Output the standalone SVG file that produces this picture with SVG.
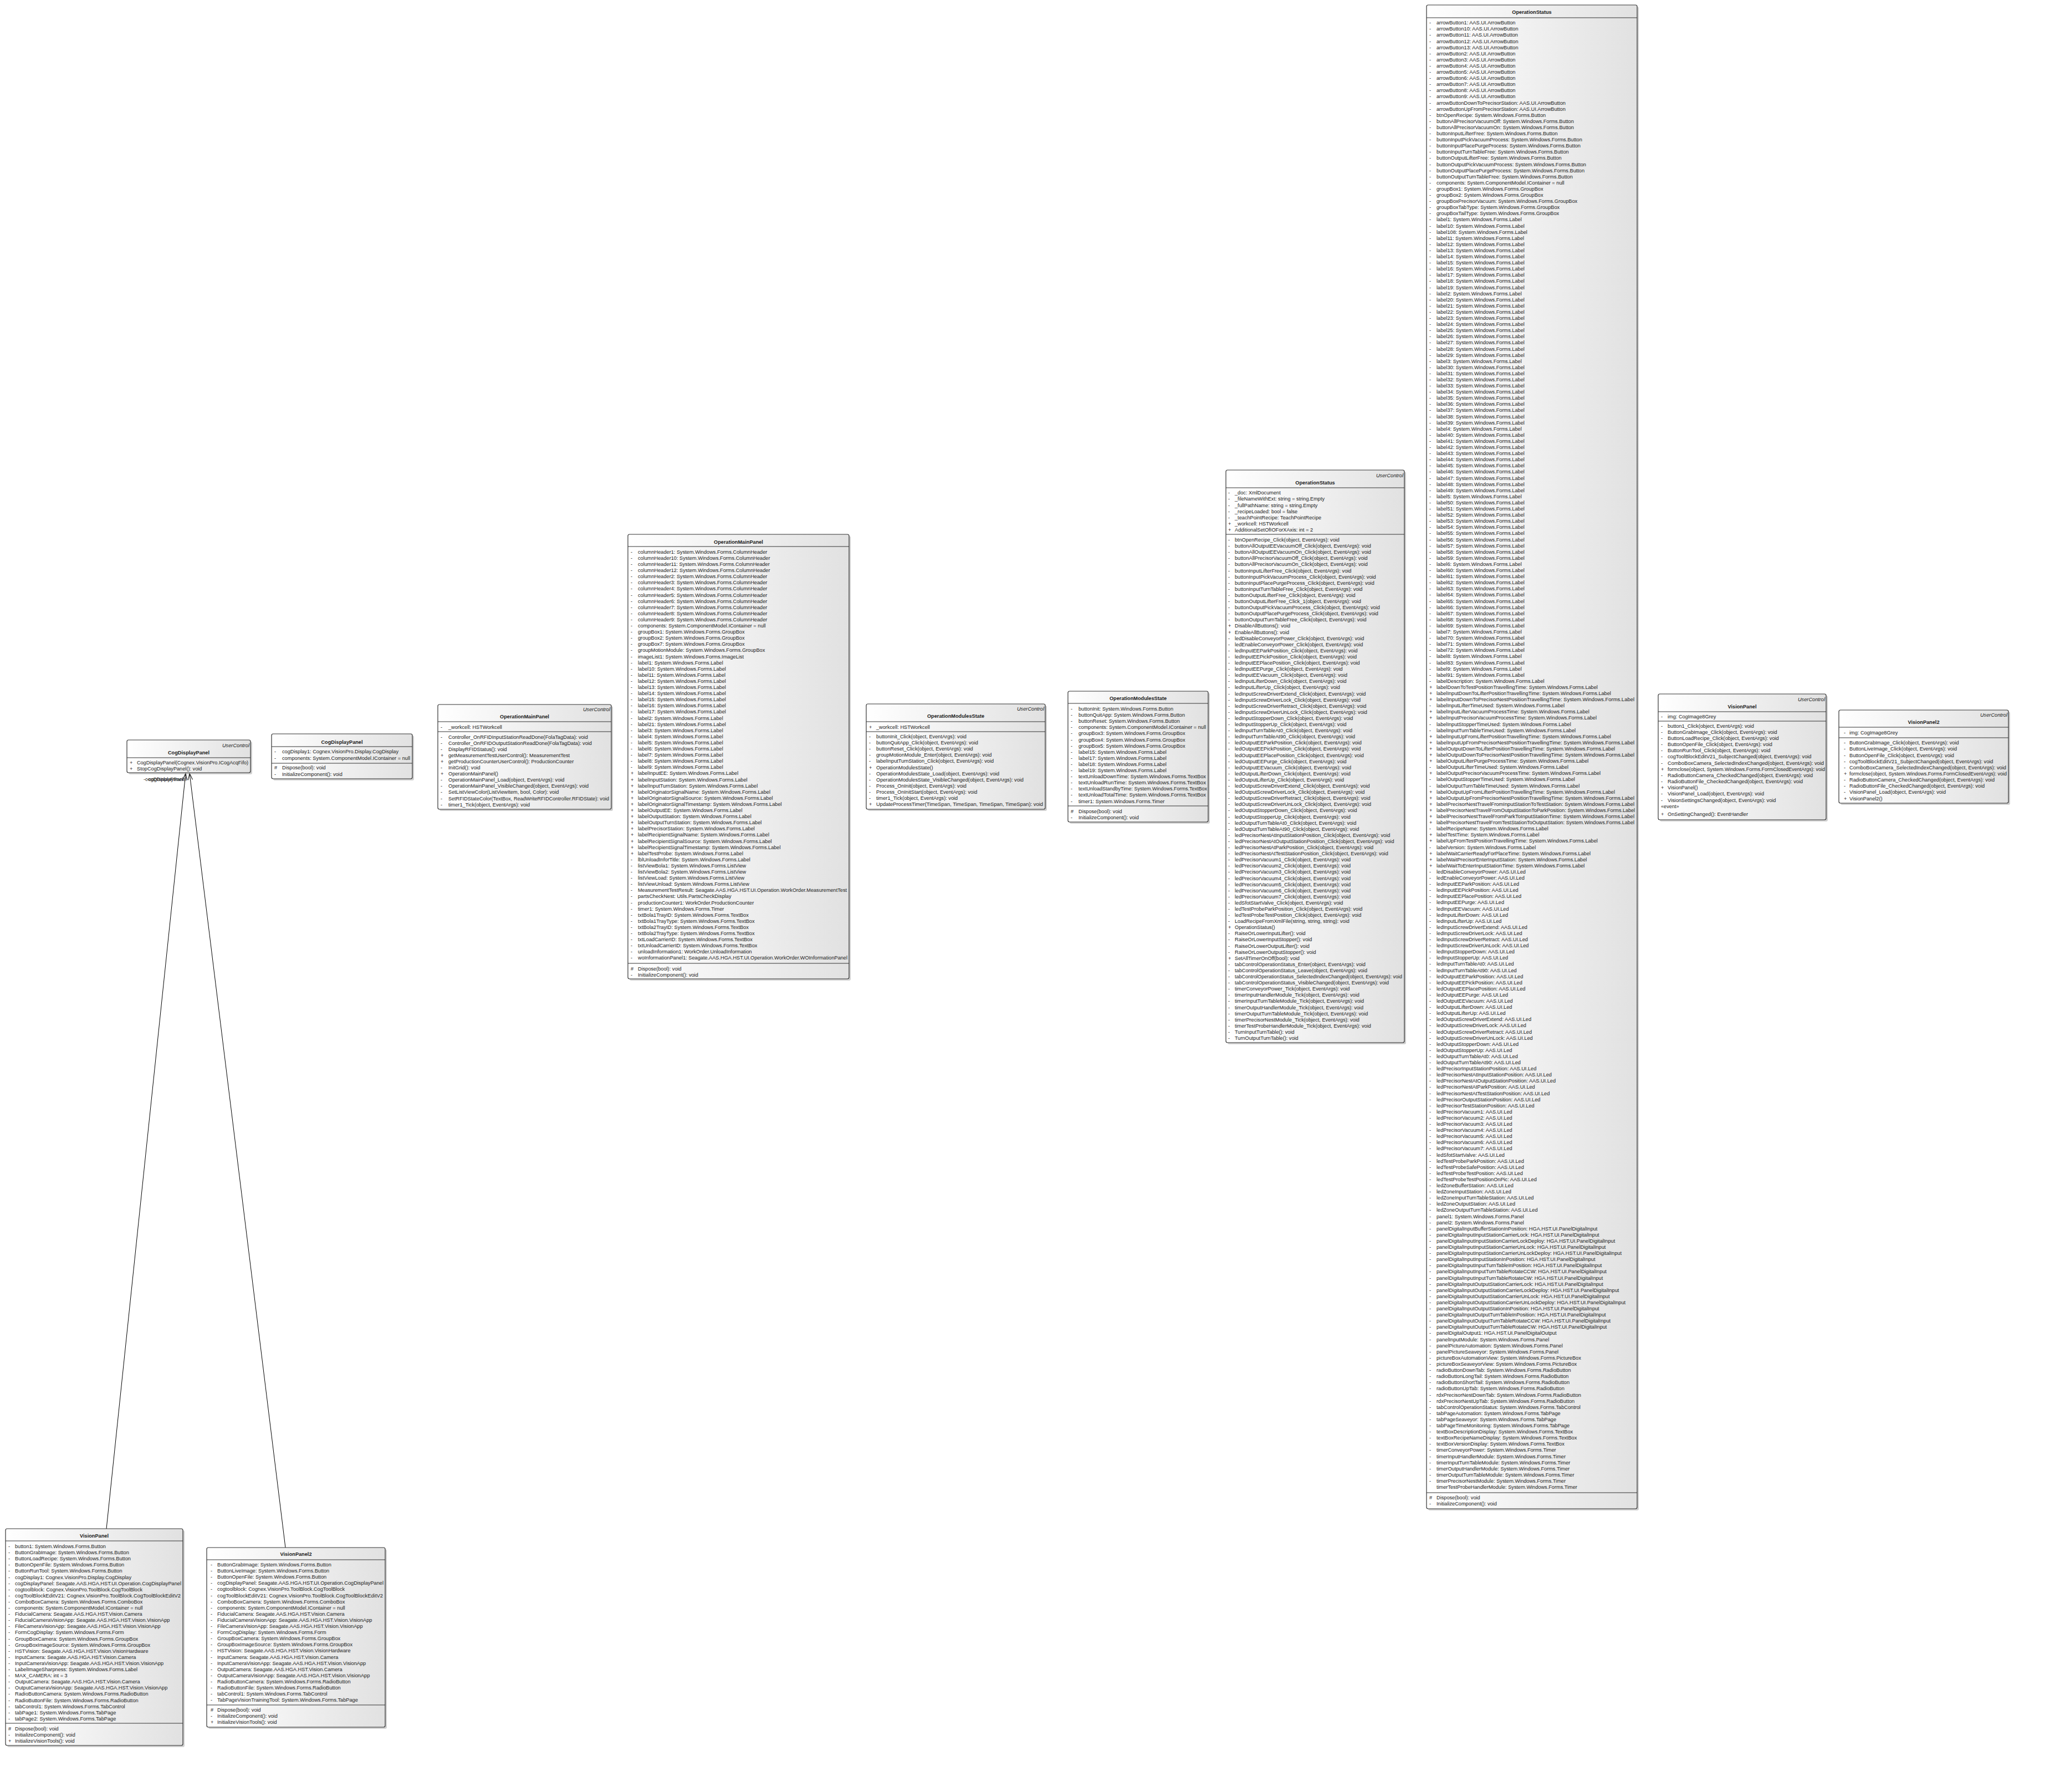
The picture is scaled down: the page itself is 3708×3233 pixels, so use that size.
<svg xmlns="http://www.w3.org/2000/svg" width="3708" height="3233" viewBox="0 0 3708 3233">
<style>
.t{font-family:"Liberation Sans",Arial,sans-serif;font-size:9.2px;fill:#1a1a1a}
.b{font-weight:bold;text-anchor:middle}
.i{font-style:italic;text-anchor:end}
.box{fill:url(#g);stroke:#333;stroke-width:1.2}
.sh{fill:#a8a8a8;opacity:.55}
.sep{stroke:#333;stroke-width:1.2}
.ln{stroke:#000;stroke-width:1;fill:none}
</style>
<defs>
<linearGradient id="g" x1="0" y1="0" x2="1" y2="0"><stop offset="0" stop-color="#ffffff"/><stop offset="1" stop-color="#e1e1e1"/></linearGradient>
<marker id="open" viewBox="0 0 14 10" refX="13" refY="5" markerWidth="14" markerHeight="10" orient="auto" markerUnits="userSpaceOnUse"><path d="M1,1 L13,5 L1,9" fill="none" stroke="#000" stroke-width="1"/></marker>
</defs>
<rect width="3708" height="3233" fill="#ffffff"/>

<g id="connectors">
<line class="ln" x1="192" y1="2758" x2="335" y2="1395" marker-end="url(#open)"/>
<line class="ln" x1="515" y1="2792" x2="342" y2="1395" marker-end="url(#open)"/>
<text class="t" x="259" y="1409">-cogDisplayPanel</text>
<text class="t" x="265" y="1409">-cogDisplayPanel</text>
</g>

<g id="cogDisplayPanelUC">
<rect class="sh" x="232" y="1338" width="223" height="59" rx="3"/>
<rect class="box" x="229" y="1335" width="223" height="59" rx="3"/>
<text class="t i" x="450" y="1347.5">UserControl</text>
<text class="t b" x="340.5" y="1360.5">CogDisplayPanel</text>
<line class="sep" x1="229" y1="1367" x2="452" y2="1367"/>
<text class="t" x="234" y="1378.5"><tspan x="234">+</tspan><tspan x="234" dy="11.7">+</tspan></text>
<text class="t" x="247" y="1378.5"><tspan x="247" textLength="201" lengthAdjust="spacingAndGlyphs">CogDisplayPanel(Cognex.VisionPro.ICogAcqFifo)</tspan><tspan x="247" dy="11.7">StopCogDisplayPanel(): void</tspan></text>
</g>

<g id="cogDisplayPanel">
<rect class="sh" x="493" y="1327" width="254" height="81" rx="3"/>
<rect class="box" x="490" y="1324" width="254" height="81" rx="3"/>
<text class="t b" x="617" y="1341.5">CogDisplayPanel</text>
<line class="sep" x1="490" y1="1347" x2="744" y2="1347"/>
<text class="t" x="495" y="1358.5"><tspan x="495">-</tspan><tspan x="495" dy="12">-</tspan></text>
<text class="t" x="509" y="1358.5"><tspan x="509">cogDisplay1: Cognex.VisionPro.Display.CogDisplay</tspan><tspan x="509" dy="12" textLength="231" lengthAdjust="spacingAndGlyphs">components: System.ComponentModel.IContainer = null</tspan></text>
<line class="sep" x1="490" y1="1377" x2="744" y2="1377"/>
<text class="t" x="495" y="1388"><tspan x="495">#</tspan><tspan x="495" dy="12">-</tspan></text>
<text class="t" x="509" y="1388"><tspan x="509">Dispose(bool): void</tspan><tspan x="509" dy="12">InitializeComponent(): void</tspan></text>
</g>

<g id="operationMainPanelUC">
<rect class="sh" x="793" y="1274" width="313" height="189" rx="3"/>
<rect class="box" x="790" y="1271" width="313" height="189" rx="3"/>
<text class="t i" x="1101" y="1282.5">UserControl</text>
<text class="t b" x="946.5" y="1295.5">OperationMainPanel</text>
<line class="sep" x1="790" y1="1302" x2="1103" y2="1302"/>
<text class="t" x="795" y="1314.5">-</text>
<text class="t" x="809" y="1314.5">_workcell: HSTWorkcell</text>
<line class="sep" x1="790" y1="1320" x2="1103" y2="1320"/>
<text class="t" x="795" y="1332.5"><tspan x="795">-</tspan><tspan x="795" dy="11.1">-</tspan><tspan x="795" dy="11.1">-</tspan><tspan x="795" dy="11.1">+</tspan><tspan x="795" dy="11.1">+</tspan><tspan x="795" dy="11.1">-</tspan><tspan x="795" dy="11.1">+</tspan><tspan x="795" dy="11.1">-</tspan><tspan x="795" dy="11.1">-</tspan><tspan x="795" dy="11.1">-</tspan><tspan x="795" dy="11.1">-</tspan><tspan x="795" dy="11.1">-</tspan></text>
<text class="t" x="809" y="1332.5"><tspan x="809">Controller_OnRFIDInputStationReadDone(FolaTagData): void</tspan><tspan x="809" dy="11.1">Controller_OnRFIDOutputStationReadDone(FolaTagData): void</tspan><tspan x="809" dy="11.1">DisplayRFIDStatus(): void</tspan><tspan x="809" dy="11.1">getMeasurementTestUserControl(): MeasurementTest</tspan><tspan x="809" dy="11.1">getProductionCounterUserControl(): ProductionCounter</tspan><tspan x="809" dy="11.1">InitGrid(): void</tspan><tspan x="809" dy="11.1">OperationMainPanel()</tspan><tspan x="809" dy="11.1">OperationMainPanel_Load(object, EventArgs): void</tspan><tspan x="809" dy="11.1">OperationMainPanel_VisibleChanged(object, EventArgs): void</tspan><tspan x="809" dy="11.1">SetListViewColor(ListViewItem, bool, Color): void</tspan><tspan x="809" dy="11.1" textLength="290" lengthAdjust="spacingAndGlyphs">SetRFIDStateColor(TextBox, ReadWriteRFIDController.RFIDState): void</tspan><tspan x="809" dy="11.1">timer1_Tick(object, EventArgs): void</tspan></text>
</g>

<g id="operationMainPanel">
<rect class="sh" x="1136" y="967" width="399" height="802" rx="3"/>
<rect class="box" x="1133" y="964" width="399" height="802" rx="3"/>
<text class="t b" x="1332.5" y="980.5">OperationMainPanel</text>
<line class="sep" x1="1133" y1="986" x2="1532" y2="986"/>
<text class="t" x="1138" y="998.8"><tspan x="1138">-</tspan><tspan x="1138" dy="11.1">-</tspan><tspan x="1138" dy="11.1">-</tspan><tspan x="1138" dy="11.1">-</tspan><tspan x="1138" dy="11.1">-</tspan><tspan x="1138" dy="11.1">-</tspan><tspan x="1138" dy="11.1">-</tspan><tspan x="1138" dy="11.1">-</tspan><tspan x="1138" dy="11.1">-</tspan><tspan x="1138" dy="11.1">-</tspan><tspan x="1138" dy="11.1">-</tspan><tspan x="1138" dy="11.1">-</tspan><tspan x="1138" dy="11.1">-</tspan><tspan x="1138" dy="11.1">-</tspan><tspan x="1138" dy="11.1">-</tspan><tspan x="1138" dy="11.1">-</tspan><tspan x="1138" dy="11.1">-</tspan><tspan x="1138" dy="11.1">-</tspan><tspan x="1138" dy="11.1">-</tspan><tspan x="1138" dy="11.1">-</tspan><tspan x="1138" dy="11.1">-</tspan><tspan x="1138" dy="11.1">-</tspan><tspan x="1138" dy="11.1">-</tspan><tspan x="1138" dy="11.1">-</tspan><tspan x="1138" dy="11.1">-</tspan><tspan x="1138" dy="11.1">-</tspan><tspan x="1138" dy="11.1">-</tspan><tspan x="1138" dy="11.1">-</tspan><tspan x="1138" dy="11.1">-</tspan><tspan x="1138" dy="11.1">-</tspan><tspan x="1138" dy="11.1">-</tspan><tspan x="1138" dy="11.1">-</tspan><tspan x="1138" dy="11.1">-</tspan><tspan x="1138" dy="11.1">-</tspan><tspan x="1138" dy="11.1">-</tspan><tspan x="1138" dy="11.1">-</tspan><tspan x="1138" dy="11.1">+</tspan><tspan x="1138" dy="11.1">+</tspan><tspan x="1138" dy="11.1">+</tspan><tspan x="1138" dy="11.1">+</tspan><tspan x="1138" dy="11.1">+</tspan><tspan x="1138" dy="11.1">+</tspan><tspan x="1138" dy="11.1">+</tspan><tspan x="1138" dy="11.1">+</tspan><tspan x="1138" dy="11.1">+</tspan><tspan x="1138" dy="11.1">+</tspan><tspan x="1138" dy="11.1">+</tspan><tspan x="1138" dy="11.1">+</tspan><tspan x="1138" dy="11.1">+</tspan><tspan x="1138" dy="11.1">+</tspan><tspan x="1138" dy="11.1">-</tspan><tspan x="1138" dy="11.1">-</tspan><tspan x="1138" dy="11.1">-</tspan><tspan x="1138" dy="11.1">-</tspan><tspan x="1138" dy="11.1">-</tspan><tspan x="1138" dy="11.1">-</tspan><tspan x="1138" dy="11.1">-</tspan><tspan x="1138" dy="11.1">-</tspan><tspan x="1138" dy="11.1">-</tspan><tspan x="1138" dy="11.1">-</tspan><tspan x="1138" dy="11.1">-</tspan><tspan x="1138" dy="11.1">-</tspan><tspan x="1138" dy="11.1">-</tspan><tspan x="1138" dy="11.1">-</tspan><tspan x="1138" dy="11.1">-</tspan><tspan x="1138" dy="11.1">-</tspan><tspan x="1138" dy="11.1">-</tspan></text>
<text class="t" x="1151" y="998.8"><tspan x="1151">columnHeader1: System.Windows.Forms.ColumnHeader</tspan><tspan x="1151" dy="11.1">columnHeader10: System.Windows.Forms.ColumnHeader</tspan><tspan x="1151" dy="11.1">columnHeader11: System.Windows.Forms.ColumnHeader</tspan><tspan x="1151" dy="11.1">columnHeader12: System.Windows.Forms.ColumnHeader</tspan><tspan x="1151" dy="11.1">columnHeader2: System.Windows.Forms.ColumnHeader</tspan><tspan x="1151" dy="11.1">columnHeader3: System.Windows.Forms.ColumnHeader</tspan><tspan x="1151" dy="11.1">columnHeader4: System.Windows.Forms.ColumnHeader</tspan><tspan x="1151" dy="11.1">columnHeader5: System.Windows.Forms.ColumnHeader</tspan><tspan x="1151" dy="11.1">columnHeader6: System.Windows.Forms.ColumnHeader</tspan><tspan x="1151" dy="11.1">columnHeader7: System.Windows.Forms.ColumnHeader</tspan><tspan x="1151" dy="11.1">columnHeader8: System.Windows.Forms.ColumnHeader</tspan><tspan x="1151" dy="11.1">columnHeader9: System.Windows.Forms.ColumnHeader</tspan><tspan x="1151" dy="11.1">components: System.ComponentModel.IContainer = null</tspan><tspan x="1151" dy="11.1">groupBox1: System.Windows.Forms.GroupBox</tspan><tspan x="1151" dy="11.1">groupBox2: System.Windows.Forms.GroupBox</tspan><tspan x="1151" dy="11.1">groupBox7: System.Windows.Forms.GroupBox</tspan><tspan x="1151" dy="11.1">groupMotionModule: System.Windows.Forms.GroupBox</tspan><tspan x="1151" dy="11.1">imageList1: System.Windows.Forms.ImageList</tspan><tspan x="1151" dy="11.1">label1: System.Windows.Forms.Label</tspan><tspan x="1151" dy="11.1">label10: System.Windows.Forms.Label</tspan><tspan x="1151" dy="11.1">label11: System.Windows.Forms.Label</tspan><tspan x="1151" dy="11.1">label12: System.Windows.Forms.Label</tspan><tspan x="1151" dy="11.1">label13: System.Windows.Forms.Label</tspan><tspan x="1151" dy="11.1">label14: System.Windows.Forms.Label</tspan><tspan x="1151" dy="11.1">label15: System.Windows.Forms.Label</tspan><tspan x="1151" dy="11.1">label16: System.Windows.Forms.Label</tspan><tspan x="1151" dy="11.1">label17: System.Windows.Forms.Label</tspan><tspan x="1151" dy="11.1">label2: System.Windows.Forms.Label</tspan><tspan x="1151" dy="11.1">label21: System.Windows.Forms.Label</tspan><tspan x="1151" dy="11.1">label3: System.Windows.Forms.Label</tspan><tspan x="1151" dy="11.1">label4: System.Windows.Forms.Label</tspan><tspan x="1151" dy="11.1">label5: System.Windows.Forms.Label</tspan><tspan x="1151" dy="11.1">label6: System.Windows.Forms.Label</tspan><tspan x="1151" dy="11.1">label7: System.Windows.Forms.Label</tspan><tspan x="1151" dy="11.1">label8: System.Windows.Forms.Label</tspan><tspan x="1151" dy="11.1">label9: System.Windows.Forms.Label</tspan><tspan x="1151" dy="11.1">labelInputEE: System.Windows.Forms.Label</tspan><tspan x="1151" dy="11.1">labelInputStation: System.Windows.Forms.Label</tspan><tspan x="1151" dy="11.1">labelInputTurnStation: System.Windows.Forms.Label</tspan><tspan x="1151" dy="11.1">labelOriginatorSignalName: System.Windows.Forms.Label</tspan><tspan x="1151" dy="11.1">labelOriginatorSignalSource: System.Windows.Forms.Label</tspan><tspan x="1151" dy="11.1">labelOriginatorSignalTimestamp: System.Windows.Forms.Label</tspan><tspan x="1151" dy="11.1">labelOutputEE: System.Windows.Forms.Label</tspan><tspan x="1151" dy="11.1">labelOutputStation: System.Windows.Forms.Label</tspan><tspan x="1151" dy="11.1">labelOutputTurnStation: System.Windows.Forms.Label</tspan><tspan x="1151" dy="11.1">labelPrecisorStation: System.Windows.Forms.Label</tspan><tspan x="1151" dy="11.1">labelRecipientSignalName: System.Windows.Forms.Label</tspan><tspan x="1151" dy="11.1">labelRecipientSignalSource: System.Windows.Forms.Label</tspan><tspan x="1151" dy="11.1">labelRecipientSignalTimestamp: System.Windows.Forms.Label</tspan><tspan x="1151" dy="11.1">labelTestProbe: System.Windows.Forms.Label</tspan><tspan x="1151" dy="11.1">lblUnloadInforTitle: System.Windows.Forms.Label</tspan><tspan x="1151" dy="11.1">listViewBola1: System.Windows.Forms.ListView</tspan><tspan x="1151" dy="11.1">listViewBola2: System.Windows.Forms.ListView</tspan><tspan x="1151" dy="11.1">listViewLoad: System.Windows.Forms.ListView</tspan><tspan x="1151" dy="11.1">listViewUnload: System.Windows.Forms.ListView</tspan><tspan x="1151" dy="11.1" textLength="377" lengthAdjust="spacingAndGlyphs">MeasurementTestResult: Seagate.AAS.HGA.HST.UI.Operation.WorkOrder.MeasurementTest</tspan><tspan x="1151" dy="11.1">partsCheckNest: Utils.PartsCheckDisplay</tspan><tspan x="1151" dy="11.1">productionCounter1: WorkOrder.ProductionCounter</tspan><tspan x="1151" dy="11.1">timer1: System.Windows.Forms.Timer</tspan><tspan x="1151" dy="11.1">txtBola1TrayID: System.Windows.Forms.TextBox</tspan><tspan x="1151" dy="11.1">txtBola1TrayType: System.Windows.Forms.TextBox</tspan><tspan x="1151" dy="11.1">txtBola2TrayID: System.Windows.Forms.TextBox</tspan><tspan x="1151" dy="11.1">txtBola2TrayType: System.Windows.Forms.TextBox</tspan><tspan x="1151" dy="11.1">txtLoadCarrierID: System.Windows.Forms.TextBox</tspan><tspan x="1151" dy="11.1">txtUnloadCarrierID: System.Windows.Forms.TextBox</tspan><tspan x="1151" dy="11.1">unloadInformation1: WorkOrder.UnloadInformation</tspan><tspan x="1151" dy="11.1" textLength="378" lengthAdjust="spacingAndGlyphs">woInformationPanel1: Seagate.AAS.HGA.HST.UI.Operation.WorkOrder.WOInformationPanel</tspan></text>
<line class="sep" x1="1133" y1="1738" x2="1532" y2="1738"/>
<text class="t" x="1138" y="1750.5"><tspan x="1138">#</tspan><tspan x="1138" dy="11.1">-</tspan></text>
<text class="t" x="1151" y="1750.5"><tspan x="1151">Dispose(bool): void</tspan><tspan x="1151" dy="11.1">InitializeComponent(): void</tspan></text>
</g>

<g id="operationModulesStateUC">
<rect class="sh" x="1566" y="1273" width="323" height="190" rx="3"/>
<rect class="box" x="1563" y="1270" width="323" height="190" rx="3"/>
<text class="t i" x="1884" y="1282">UserControl</text>
<text class="t b" x="1724.5" y="1295">OperationModulesState</text>
<line class="sep" x1="1563" y1="1302" x2="1886" y2="1302"/>
<text class="t" x="1568" y="1314.5">+</text>
<text class="t" x="1581" y="1314.5">_workcell: HSTWorkcell</text>
<line class="sep" x1="1563" y1="1320" x2="1886" y2="1320"/>
<text class="t" x="1568" y="1332"><tspan x="1568">-</tspan><tspan x="1568" dy="11.1">-</tspan><tspan x="1568" dy="11.1">-</tspan><tspan x="1568" dy="11.1">-</tspan><tspan x="1568" dy="11.1">-</tspan><tspan x="1568" dy="11.1">+</tspan><tspan x="1568" dy="11.1">-</tspan><tspan x="1568" dy="11.1">-</tspan><tspan x="1568" dy="11.1">-</tspan><tspan x="1568" dy="11.1">-</tspan><tspan x="1568" dy="11.1">-</tspan><tspan x="1568" dy="11.1">+</tspan></text>
<text class="t" x="1581" y="1332"><tspan x="1581">buttonInit_Click(object, EventArgs): void</tspan><tspan x="1581" dy="11.1">buttonQuitApp_Click(object, EventArgs): void</tspan><tspan x="1581" dy="11.1">buttonReset_Click(object, EventArgs): void</tspan><tspan x="1581" dy="11.1">groupMotionModule_Enter(object, EventArgs): void</tspan><tspan x="1581" dy="11.1">labelInputTurnStation_Click(object, EventArgs): void</tspan><tspan x="1581" dy="11.1">OperationModulesState()</tspan><tspan x="1581" dy="11.1">OperationModulesState_Load(object, EventArgs): void</tspan><tspan x="1581" dy="11.1">OperationModulesState_VisibleChanged(object, EventArgs): void</tspan><tspan x="1581" dy="11.1">Process_OnInit(object, EventArgs): void</tspan><tspan x="1581" dy="11.1">Process_OnInitStart(object, EventArgs): void</tspan><tspan x="1581" dy="11.1">timer1_Tick(object, EventArgs): void</tspan><tspan x="1581" dy="11.1" textLength="301" lengthAdjust="spacingAndGlyphs">UpdateProcessTimer(TimeSpan, TimeSpan, TimeSpan, TimeSpan): void</tspan></text>
</g>

<g id="operationModulesState">
<rect class="sh" x="1930" y="1250" width="253" height="236" rx="3"/>
<rect class="box" x="1927" y="1247" width="253" height="236" rx="3"/>
<text class="t b" x="2053.5" y="1263">OperationModulesState</text>
<line class="sep" x1="1927" y1="1269" x2="2180" y2="1269"/>
<text class="t" x="1932" y="1282"><tspan x="1932">-</tspan><tspan x="1932" dy="11.1">-</tspan><tspan x="1932" dy="11.1">-</tspan><tspan x="1932" dy="11.1">-</tspan><tspan x="1932" dy="11.1">-</tspan><tspan x="1932" dy="11.1">-</tspan><tspan x="1932" dy="11.1">-</tspan><tspan x="1932" dy="11.1">-</tspan><tspan x="1932" dy="11.1">-</tspan><tspan x="1932" dy="11.1">-</tspan><tspan x="1932" dy="11.1">-</tspan><tspan x="1932" dy="11.1">-</tspan><tspan x="1932" dy="11.1">-</tspan><tspan x="1932" dy="11.1">-</tspan><tspan x="1932" dy="11.1">-</tspan><tspan x="1932" dy="11.1">-</tspan></text>
<text class="t" x="1946" y="1282"><tspan x="1946">buttonInit: System.Windows.Forms.Button</tspan><tspan x="1946" dy="11.1">buttonQuitApp: System.Windows.Forms.Button</tspan><tspan x="1946" dy="11.1">buttonReset: System.Windows.Forms.Button</tspan><tspan x="1946" dy="11.1" textLength="230" lengthAdjust="spacingAndGlyphs">components: System.ComponentModel.IContainer = null</tspan><tspan x="1946" dy="11.1">groupBox3: System.Windows.Forms.GroupBox</tspan><tspan x="1946" dy="11.1">groupBox4: System.Windows.Forms.GroupBox</tspan><tspan x="1946" dy="11.1">groupBox5: System.Windows.Forms.GroupBox</tspan><tspan x="1946" dy="11.1">label15: System.Windows.Forms.Label</tspan><tspan x="1946" dy="11.1">label17: System.Windows.Forms.Label</tspan><tspan x="1946" dy="11.1">label18: System.Windows.Forms.Label</tspan><tspan x="1946" dy="11.1">label19: System.Windows.Forms.Label</tspan><tspan x="1946" dy="11.1" textLength="230" lengthAdjust="spacingAndGlyphs">textUnloadDownTime: System.Windows.Forms.TextBox</tspan><tspan x="1946" dy="11.1" textLength="230" lengthAdjust="spacingAndGlyphs">textUnloadRunTime: System.Windows.Forms.TextBox</tspan><tspan x="1946" dy="11.1" textLength="232" lengthAdjust="spacingAndGlyphs">textUnloadStandbyTime: System.Windows.Forms.TextBox</tspan><tspan x="1946" dy="11.1" textLength="230" lengthAdjust="spacingAndGlyphs">textUnloadTotalTime: System.Windows.Forms.TextBox</tspan><tspan x="1946" dy="11.1">timer1: System.Windows.Forms.Timer</tspan></text>
<line class="sep" x1="1927" y1="1454" x2="2180" y2="1454"/>
<text class="t" x="1932" y="1466.5"><tspan x="1932">#</tspan><tspan x="1932" dy="11.1">-</tspan></text>
<text class="t" x="1946" y="1466.5"><tspan x="1946">Dispose(bool): void</tspan><tspan x="1946" dy="11.1">InitializeComponent(): void</tspan></text>
</g>

<g id="operationStatusUC">
<rect class="sh" x="2215" y="851" width="322" height="1033" rx="3"/>
<rect class="box" x="2212" y="848" width="322" height="1033" rx="3"/>
<text class="t i" x="2532" y="860.5">UserControl</text>
<text class="t b" x="2373" y="873.5">OperationStatus</text>
<line class="sep" x1="2212" y1="880" x2="2534" y2="880"/>
<text class="t" x="2216" y="892.3"><tspan x="2216">-</tspan><tspan x="2216" dy="11.1">-</tspan><tspan x="2216" dy="11.1">-</tspan><tspan x="2216" dy="11.1">-</tspan><tspan x="2216" dy="11.1">-</tspan><tspan x="2216" dy="11.1">+</tspan><tspan x="2216" dy="11.1">+</tspan></text>
<text class="t" x="2228" y="892.3"><tspan x="2228">_doc: XmlDocument</tspan><tspan x="2228" dy="11.1">_fileNameWithExt: string = string.Empty</tspan><tspan x="2228" dy="11.1">_fullPathName: string = string.Empty</tspan><tspan x="2228" dy="11.1">_recipeLoaded: bool = false</tspan><tspan x="2228" dy="11.1">_teachPointRecipe: TeachPointRecipe</tspan><tspan x="2228" dy="11.1">_workcell: HSTWorkcell</tspan><tspan x="2228" dy="11.1">AdditionalSetOfIOForXAxis: int = 2</tspan></text>
<line class="sep" x1="2212" y1="964" x2="2534" y2="964"/>
<text class="t" x="2216" y="977"><tspan x="2216">-</tspan><tspan x="2216" dy="11.1">-</tspan><tspan x="2216" dy="11.1">-</tspan><tspan x="2216" dy="11.1">-</tspan><tspan x="2216" dy="11.1">-</tspan><tspan x="2216" dy="11.1">-</tspan><tspan x="2216" dy="11.1">-</tspan><tspan x="2216" dy="11.1">-</tspan><tspan x="2216" dy="11.1">-</tspan><tspan x="2216" dy="11.1">-</tspan><tspan x="2216" dy="11.1">-</tspan><tspan x="2216" dy="11.1">-</tspan><tspan x="2216" dy="11.1">-</tspan><tspan x="2216" dy="11.1">-</tspan><tspan x="2216" dy="11.1">+</tspan><tspan x="2216" dy="11.1">+</tspan><tspan x="2216" dy="11.1">-</tspan><tspan x="2216" dy="11.1">-</tspan><tspan x="2216" dy="11.1">-</tspan><tspan x="2216" dy="11.1">-</tspan><tspan x="2216" dy="11.1">-</tspan><tspan x="2216" dy="11.1">-</tspan><tspan x="2216" dy="11.1">-</tspan><tspan x="2216" dy="11.1">-</tspan><tspan x="2216" dy="11.1">-</tspan><tspan x="2216" dy="11.1">-</tspan><tspan x="2216" dy="11.1">-</tspan><tspan x="2216" dy="11.1">-</tspan><tspan x="2216" dy="11.1">-</tspan><tspan x="2216" dy="11.1">-</tspan><tspan x="2216" dy="11.1">-</tspan><tspan x="2216" dy="11.1">-</tspan><tspan x="2216" dy="11.1">-</tspan><tspan x="2216" dy="11.1">-</tspan><tspan x="2216" dy="11.1">-</tspan><tspan x="2216" dy="11.1">-</tspan><tspan x="2216" dy="11.1">-</tspan><tspan x="2216" dy="11.1">-</tspan><tspan x="2216" dy="11.1">-</tspan><tspan x="2216" dy="11.1">-</tspan><tspan x="2216" dy="11.1">-</tspan><tspan x="2216" dy="11.1">-</tspan><tspan x="2216" dy="11.1">-</tspan><tspan x="2216" dy="11.1">-</tspan><tspan x="2216" dy="11.1">-</tspan><tspan x="2216" dy="11.1">-</tspan><tspan x="2216" dy="11.1">-</tspan><tspan x="2216" dy="11.1">-</tspan><tspan x="2216" dy="11.1">-</tspan><tspan x="2216" dy="11.1">-</tspan><tspan x="2216" dy="11.1">-</tspan><tspan x="2216" dy="11.1">-</tspan><tspan x="2216" dy="11.1">-</tspan><tspan x="2216" dy="11.1">-</tspan><tspan x="2216" dy="11.1">-</tspan><tspan x="2216" dy="11.1">-</tspan><tspan x="2216" dy="11.1">-</tspan><tspan x="2216" dy="11.1">-</tspan><tspan x="2216" dy="11.1">-</tspan><tspan x="2216" dy="11.1">-</tspan><tspan x="2216" dy="11.1">-</tspan><tspan x="2216" dy="11.1">-</tspan><tspan x="2216" dy="11.1">-</tspan><tspan x="2216" dy="11.1">+</tspan><tspan x="2216" dy="11.1">-</tspan><tspan x="2216" dy="11.1">-</tspan><tspan x="2216" dy="11.1">-</tspan><tspan x="2216" dy="11.1">-</tspan><tspan x="2216" dy="11.1">+</tspan><tspan x="2216" dy="11.1">-</tspan><tspan x="2216" dy="11.1">-</tspan><tspan x="2216" dy="11.1">-</tspan><tspan x="2216" dy="11.1">-</tspan><tspan x="2216" dy="11.1">-</tspan><tspan x="2216" dy="11.1">-</tspan><tspan x="2216" dy="11.1">-</tspan><tspan x="2216" dy="11.1">-</tspan><tspan x="2216" dy="11.1">-</tspan><tspan x="2216" dy="11.1">-</tspan><tspan x="2216" dy="11.1">-</tspan><tspan x="2216" dy="11.1">-</tspan><tspan x="2216" dy="11.1">-</tspan></text>
<text class="t" x="2228" y="977"><tspan x="2228">btnOpenRecipe_Click(object, EventArgs): void</tspan><tspan x="2228" dy="11.1">buttonAllOutputEEVacuumOff_Click(object, EventArgs): void</tspan><tspan x="2228" dy="11.1">buttonAllOutputEEVacuumOn_Click(object, EventArgs): void</tspan><tspan x="2228" dy="11.1">buttonAllPrecisorVacuumOff_Click(object, EventArgs): void</tspan><tspan x="2228" dy="11.1">buttonAllPrecisorVacuumOn_Click(object, EventArgs): void</tspan><tspan x="2228" dy="11.1">buttonInputLifterFree_Click(object, EventArgs): void</tspan><tspan x="2228" dy="11.1">buttonInputPickVacuumProcess_Click(object, EventArgs): void</tspan><tspan x="2228" dy="11.1">buttonInputPlacePurgeProcess_Click(object, EventArgs): void</tspan><tspan x="2228" dy="11.1">buttonInputTurnTableFree_Click(object, EventArgs): void</tspan><tspan x="2228" dy="11.1">buttonOutputLifterFree_Click(object, EventArgs): void</tspan><tspan x="2228" dy="11.1">buttonOutputLifterFree_Click_1(object, EventArgs): void</tspan><tspan x="2228" dy="11.1">buttonOutputPickVacuumProcess_Click(object, EventArgs): void</tspan><tspan x="2228" dy="11.1">buttonOutputPlacePurgeProcess_Click(object, EventArgs): void</tspan><tspan x="2228" dy="11.1">buttonOutputTurnTableFree_Click(object, EventArgs): void</tspan><tspan x="2228" dy="11.1">DisableAllButtons(): void</tspan><tspan x="2228" dy="11.1">EnableAllButtons(): void</tspan><tspan x="2228" dy="11.1">ledDisableConveyorPower_Click(object, EventArgs): void</tspan><tspan x="2228" dy="11.1">ledEnableConveyorPower_Click(object, EventArgs): void</tspan><tspan x="2228" dy="11.1">ledInputEEParkPosition_Click(object, EventArgs): void</tspan><tspan x="2228" dy="11.1">ledInputEEPickPosition_Click(object, EventArgs): void</tspan><tspan x="2228" dy="11.1">ledInputEEPlacePosition_Click(object, EventArgs): void</tspan><tspan x="2228" dy="11.1">ledInputEEPurge_Click(object, EventArgs): void</tspan><tspan x="2228" dy="11.1">ledInputEEVacuum_Click(object, EventArgs): void</tspan><tspan x="2228" dy="11.1">ledInputLifterDown_Click(object, EventArgs): void</tspan><tspan x="2228" dy="11.1">ledInputLifterUp_Click(object, EventArgs): void</tspan><tspan x="2228" dy="11.1">ledInputScrewDriverExtend_Click(object, EventArgs): void</tspan><tspan x="2228" dy="11.1">ledInputScrewDriverLock_Click(object, EventArgs): void</tspan><tspan x="2228" dy="11.1">ledInputScrewDriverRetract_Click(object, EventArgs): void</tspan><tspan x="2228" dy="11.1">ledInputScrewDriverUnLock_Click(object, EventArgs): void</tspan><tspan x="2228" dy="11.1">ledInputStopperDown_Click(object, EventArgs): void</tspan><tspan x="2228" dy="11.1">ledInputStopperUp_Click(object, EventArgs): void</tspan><tspan x="2228" dy="11.1">ledInputTurnTableAt0_Click(object, EventArgs): void</tspan><tspan x="2228" dy="11.1">ledInputTurnTableAt90_Click(object, EventArgs): void</tspan><tspan x="2228" dy="11.1">ledOutputEEParkPosition_Click(object, EventArgs): void</tspan><tspan x="2228" dy="11.1">ledOutputEEPickPosition_Click(object, EventArgs): void</tspan><tspan x="2228" dy="11.1">ledOutputEEPlacePosition_Click(object, EventArgs): void</tspan><tspan x="2228" dy="11.1">ledOutputEEPurge_Click(object, EventArgs): void</tspan><tspan x="2228" dy="11.1">ledOutputEEVacuum_Click(object, EventArgs): void</tspan><tspan x="2228" dy="11.1">ledOutputLifterDown_Click(object, EventArgs): void</tspan><tspan x="2228" dy="11.1">ledOutputLifterUp_Click(object, EventArgs): void</tspan><tspan x="2228" dy="11.1">ledOutputScrewDriverExtend_Click(object, EventArgs): void</tspan><tspan x="2228" dy="11.1">ledOutputScrewDriverLock_Click(object, EventArgs): void</tspan><tspan x="2228" dy="11.1">ledOutputScrewDriverRetract_Click(object, EventArgs): void</tspan><tspan x="2228" dy="11.1">ledOutputScrewDriverUnLock_Click(object, EventArgs): void</tspan><tspan x="2228" dy="11.1">ledOutputStopperDown_Click(object, EventArgs): void</tspan><tspan x="2228" dy="11.1">ledOutputStopperUp_Click(object, EventArgs): void</tspan><tspan x="2228" dy="11.1">ledOutputTurnTableAt0_Click(object, EventArgs): void</tspan><tspan x="2228" dy="11.1">ledOutputTurnTableAt90_Click(object, EventArgs): void</tspan><tspan x="2228" dy="11.1">ledPrecisorNestAtInputStationPosition_Click(object, EventArgs): void</tspan><tspan x="2228" dy="11.1">ledPrecisorNestAtOutputStationPosition_Click(object, EventArgs): void</tspan><tspan x="2228" dy="11.1">ledPrecisorNestAtParkPosition_Click(object, EventArgs): void</tspan><tspan x="2228" dy="11.1">ledPrecisorNestAtTestStationPosition_Click(object, EventArgs): void</tspan><tspan x="2228" dy="11.1">ledPrecisorVacuum1_Click(object, EventArgs): void</tspan><tspan x="2228" dy="11.1">ledPrecisorVacuum2_Click(object, EventArgs): void</tspan><tspan x="2228" dy="11.1">ledPrecisorVacuum3_Click(object, EventArgs): void</tspan><tspan x="2228" dy="11.1">ledPrecisorVacuum4_Click(object, EventArgs): void</tspan><tspan x="2228" dy="11.1">ledPrecisorVacuum5_Click(object, EventArgs): void</tspan><tspan x="2228" dy="11.1">ledPrecisorVacuum6_Click(object, EventArgs): void</tspan><tspan x="2228" dy="11.1">ledPrecisorVacuum7_Click(object, EventArgs): void</tspan><tspan x="2228" dy="11.1">ledSfotStartValve_Click(object, EventArgs): void</tspan><tspan x="2228" dy="11.1">ledTestProbeParkPosition_Click(object, EventArgs): void</tspan><tspan x="2228" dy="11.1">ledTestProbeTestPosition_Click(object, EventArgs): void</tspan><tspan x="2228" dy="11.1">LoadRecipeFromXmlFile(string, string, string): void</tspan><tspan x="2228" dy="11.1">OperationStatus()</tspan><tspan x="2228" dy="11.1">RaiseOrLowerInputLifter(): void</tspan><tspan x="2228" dy="11.1">RaiseOrLowerInputStopper(): void</tspan><tspan x="2228" dy="11.1">RaiseOrLowerOutputLifter(): void</tspan><tspan x="2228" dy="11.1">RaiseOrLowerOutputStopper(): void</tspan><tspan x="2228" dy="11.1">SetAllTimerOnOff(bool): void</tspan><tspan x="2228" dy="11.1">tabControlOperationStatus_Enter(object, EventArgs): void</tspan><tspan x="2228" dy="11.1">tabControlOperationStatus_Leave(object, EventArgs): void</tspan><tspan x="2228" dy="11.1" textLength="302" lengthAdjust="spacingAndGlyphs">tabControlOperationStatus_SelectedIndexChanged(object, EventArgs): void</tspan><tspan x="2228" dy="11.1">tabControlOperationStatus_VisibleChanged(object, EventArgs): void</tspan><tspan x="2228" dy="11.1">timerConveyorPower_Tick(object, EventArgs): void</tspan><tspan x="2228" dy="11.1">timerInputHandlerModule_Tick(object, EventArgs): void</tspan><tspan x="2228" dy="11.1">timerInputTurnTableModule_Tick(object, EventArgs): void</tspan><tspan x="2228" dy="11.1">timerOutputHandlerModule_Tick(object, EventArgs): void</tspan><tspan x="2228" dy="11.1">timerOutputTurnTableModule_Tick(object, EventArgs): void</tspan><tspan x="2228" dy="11.1">timerPrecisorNestModule_Tick(object, EventArgs): void</tspan><tspan x="2228" dy="11.1">timerTestProbeHandlerModule_Tick(object, EventArgs): void</tspan><tspan x="2228" dy="11.1">TurnInputTurnTable(): void</tspan><tspan x="2228" dy="11.1">TurnOutputTurnTable(): void</tspan></text>
</g>

<g id="operationStatus">
<rect class="sh" x="2577" y="12" width="380" height="2713" rx="3"/>
<rect class="box" x="2574" y="9" width="380" height="2713" rx="3"/>
<text class="t b" x="2764" y="24.5">OperationStatus</text>
<line class="sep" x1="2574" y1="32" x2="2954" y2="32"/>
<text class="t" x="2579" y="44.2"><tspan x="2579">-</tspan><tspan x="2579" dy="11.1">-</tspan><tspan x="2579" dy="11.1">-</tspan><tspan x="2579" dy="11.1">-</tspan><tspan x="2579" dy="11.1">-</tspan><tspan x="2579" dy="11.1">-</tspan><tspan x="2579" dy="11.1">-</tspan><tspan x="2579" dy="11.1">-</tspan><tspan x="2579" dy="11.1">-</tspan><tspan x="2579" dy="11.1">-</tspan><tspan x="2579" dy="11.1">-</tspan><tspan x="2579" dy="11.1">-</tspan><tspan x="2579" dy="11.1">-</tspan><tspan x="2579" dy="11.1">-</tspan><tspan x="2579" dy="11.1">-</tspan><tspan x="2579" dy="11.1">-</tspan><tspan x="2579" dy="11.1">-</tspan><tspan x="2579" dy="11.1">-</tspan><tspan x="2579" dy="11.1">-</tspan><tspan x="2579" dy="11.1">-</tspan><tspan x="2579" dy="11.1">-</tspan><tspan x="2579" dy="11.1">-</tspan><tspan x="2579" dy="11.1">-</tspan><tspan x="2579" dy="11.1">-</tspan><tspan x="2579" dy="11.1">-</tspan><tspan x="2579" dy="11.1">-</tspan><tspan x="2579" dy="11.1">-</tspan><tspan x="2579" dy="11.1">-</tspan><tspan x="2579" dy="11.1">-</tspan><tspan x="2579" dy="11.1">-</tspan><tspan x="2579" dy="11.1">-</tspan><tspan x="2579" dy="11.1">-</tspan><tspan x="2579" dy="11.1">-</tspan><tspan x="2579" dy="11.1">-</tspan><tspan x="2579" dy="11.1">-</tspan><tspan x="2579" dy="11.1">-</tspan><tspan x="2579" dy="11.1">-</tspan><tspan x="2579" dy="11.1">-</tspan><tspan x="2579" dy="11.1">-</tspan><tspan x="2579" dy="11.1">-</tspan><tspan x="2579" dy="11.1">-</tspan><tspan x="2579" dy="11.1">-</tspan><tspan x="2579" dy="11.1">-</tspan><tspan x="2579" dy="11.1">-</tspan><tspan x="2579" dy="11.1">-</tspan><tspan x="2579" dy="11.1">-</tspan><tspan x="2579" dy="11.1">-</tspan><tspan x="2579" dy="11.1">-</tspan><tspan x="2579" dy="11.1">-</tspan><tspan x="2579" dy="11.1">-</tspan><tspan x="2579" dy="11.1">-</tspan><tspan x="2579" dy="11.1">-</tspan><tspan x="2579" dy="11.1">-</tspan><tspan x="2579" dy="11.1">-</tspan><tspan x="2579" dy="11.1">-</tspan><tspan x="2579" dy="11.1">-</tspan><tspan x="2579" dy="11.1">-</tspan><tspan x="2579" dy="11.1">-</tspan><tspan x="2579" dy="11.1">-</tspan><tspan x="2579" dy="11.1">-</tspan><tspan x="2579" dy="11.1">-</tspan><tspan x="2579" dy="11.1">-</tspan><tspan x="2579" dy="11.1">-</tspan><tspan x="2579" dy="11.1">-</tspan><tspan x="2579" dy="11.1">-</tspan><tspan x="2579" dy="11.1">-</tspan><tspan x="2579" dy="11.1">-</tspan><tspan x="2579" dy="11.1">-</tspan><tspan x="2579" dy="11.1">-</tspan><tspan x="2579" dy="11.1">-</tspan><tspan x="2579" dy="11.1">-</tspan><tspan x="2579" dy="11.1">-</tspan><tspan x="2579" dy="11.1">-</tspan><tspan x="2579" dy="11.1">-</tspan><tspan x="2579" dy="11.1">-</tspan><tspan x="2579" dy="11.1">-</tspan><tspan x="2579" dy="11.1">-</tspan><tspan x="2579" dy="11.1">-</tspan><tspan x="2579" dy="11.1">-</tspan><tspan x="2579" dy="11.1">-</tspan><tspan x="2579" dy="11.1">-</tspan><tspan x="2579" dy="11.1">-</tspan><tspan x="2579" dy="11.1">-</tspan><tspan x="2579" dy="11.1">-</tspan><tspan x="2579" dy="11.1">-</tspan><tspan x="2579" dy="11.1">-</tspan><tspan x="2579" dy="11.1">-</tspan><tspan x="2579" dy="11.1">-</tspan><tspan x="2579" dy="11.1">-</tspan><tspan x="2579" dy="11.1">-</tspan><tspan x="2579" dy="11.1">-</tspan><tspan x="2579" dy="11.1">-</tspan><tspan x="2579" dy="11.1">-</tspan><tspan x="2579" dy="11.1">-</tspan><tspan x="2579" dy="11.1">-</tspan><tspan x="2579" dy="11.1">-</tspan><tspan x="2579" dy="11.1">-</tspan><tspan x="2579" dy="11.1">-</tspan><tspan x="2579" dy="11.1">-</tspan><tspan x="2579" dy="11.1">-</tspan><tspan x="2579" dy="11.1">-</tspan><tspan x="2579" dy="11.1">-</tspan><tspan x="2579" dy="11.1">-</tspan><tspan x="2579" dy="11.1">-</tspan><tspan x="2579" dy="11.1">-</tspan><tspan x="2579" dy="11.1">-</tspan><tspan x="2579" dy="11.1">-</tspan><tspan x="2579" dy="11.1">-</tspan><tspan x="2579" dy="11.1">+</tspan><tspan x="2579" dy="11.1">+</tspan><tspan x="2579" dy="11.1">+</tspan><tspan x="2579" dy="11.1">-</tspan><tspan x="2579" dy="11.1">+</tspan><tspan x="2579" dy="11.1">+</tspan><tspan x="2579" dy="11.1">-</tspan><tspan x="2579" dy="11.1">-</tspan><tspan x="2579" dy="11.1">+</tspan><tspan x="2579" dy="11.1">+</tspan><tspan x="2579" dy="11.1">+</tspan><tspan x="2579" dy="11.1">+</tspan><tspan x="2579" dy="11.1">+</tspan><tspan x="2579" dy="11.1">-</tspan><tspan x="2579" dy="11.1">+</tspan><tspan x="2579" dy="11.1">-</tspan><tspan x="2579" dy="11.1">-</tspan><tspan x="2579" dy="11.1">+</tspan><tspan x="2579" dy="11.1">+</tspan><tspan x="2579" dy="11.1">+</tspan><tspan x="2579" dy="11.1">+</tspan><tspan x="2579" dy="11.1">+</tspan><tspan x="2579" dy="11.1">+</tspan><tspan x="2579" dy="11.1">-</tspan><tspan x="2579" dy="11.1">+</tspan><tspan x="2579" dy="11.1">+</tspan><tspan x="2579" dy="11.1">-</tspan><tspan x="2579" dy="11.1">+</tspan><tspan x="2579" dy="11.1">+</tspan><tspan x="2579" dy="11.1">+</tspan><tspan x="2579" dy="11.1">-</tspan><tspan x="2579" dy="11.1">-</tspan><tspan x="2579" dy="11.1">-</tspan><tspan x="2579" dy="11.1">-</tspan><tspan x="2579" dy="11.1">-</tspan><tspan x="2579" dy="11.1">-</tspan><tspan x="2579" dy="11.1">-</tspan><tspan x="2579" dy="11.1">-</tspan><tspan x="2579" dy="11.1">-</tspan><tspan x="2579" dy="11.1">-</tspan><tspan x="2579" dy="11.1">-</tspan><tspan x="2579" dy="11.1">-</tspan><tspan x="2579" dy="11.1">-</tspan><tspan x="2579" dy="11.1">-</tspan><tspan x="2579" dy="11.1">-</tspan><tspan x="2579" dy="11.1">-</tspan><tspan x="2579" dy="11.1">-</tspan><tspan x="2579" dy="11.1">-</tspan><tspan x="2579" dy="11.1">-</tspan><tspan x="2579" dy="11.1">-</tspan><tspan x="2579" dy="11.1">-</tspan><tspan x="2579" dy="11.1">-</tspan><tspan x="2579" dy="11.1">-</tspan><tspan x="2579" dy="11.1">-</tspan><tspan x="2579" dy="11.1">-</tspan><tspan x="2579" dy="11.1">-</tspan><tspan x="2579" dy="11.1">-</tspan><tspan x="2579" dy="11.1">-</tspan><tspan x="2579" dy="11.1">-</tspan><tspan x="2579" dy="11.1">-</tspan><tspan x="2579" dy="11.1">-</tspan><tspan x="2579" dy="11.1">-</tspan><tspan x="2579" dy="11.1">-</tspan><tspan x="2579" dy="11.1">-</tspan><tspan x="2579" dy="11.1">-</tspan><tspan x="2579" dy="11.1">-</tspan><tspan x="2579" dy="11.1">-</tspan><tspan x="2579" dy="11.1">-</tspan><tspan x="2579" dy="11.1">-</tspan><tspan x="2579" dy="11.1">-</tspan><tspan x="2579" dy="11.1">-</tspan><tspan x="2579" dy="11.1">-</tspan><tspan x="2579" dy="11.1">-</tspan><tspan x="2579" dy="11.1">-</tspan><tspan x="2579" dy="11.1">-</tspan><tspan x="2579" dy="11.1">-</tspan><tspan x="2579" dy="11.1">-</tspan><tspan x="2579" dy="11.1">-</tspan><tspan x="2579" dy="11.1">-</tspan><tspan x="2579" dy="11.1">-</tspan><tspan x="2579" dy="11.1">-</tspan><tspan x="2579" dy="11.1">-</tspan><tspan x="2579" dy="11.1">-</tspan><tspan x="2579" dy="11.1">-</tspan><tspan x="2579" dy="11.1">-</tspan><tspan x="2579" dy="11.1">-</tspan><tspan x="2579" dy="11.1">-</tspan><tspan x="2579" dy="11.1">-</tspan><tspan x="2579" dy="11.1">-</tspan><tspan x="2579" dy="11.1">-</tspan><tspan x="2579" dy="11.1">-</tspan><tspan x="2579" dy="11.1">-</tspan><tspan x="2579" dy="11.1">-</tspan><tspan x="2579" dy="11.1">-</tspan><tspan x="2579" dy="11.1">-</tspan><tspan x="2579" dy="11.1">-</tspan><tspan x="2579" dy="11.1">-</tspan><tspan x="2579" dy="11.1">-</tspan><tspan x="2579" dy="11.1">-</tspan><tspan x="2579" dy="11.1">-</tspan><tspan x="2579" dy="11.1">-</tspan><tspan x="2579" dy="11.1">-</tspan><tspan x="2579" dy="11.1">-</tspan><tspan x="2579" dy="11.1">-</tspan><tspan x="2579" dy="11.1">-</tspan><tspan x="2579" dy="11.1">-</tspan><tspan x="2579" dy="11.1">-</tspan><tspan x="2579" dy="11.1">-</tspan><tspan x="2579" dy="11.1">-</tspan><tspan x="2579" dy="11.1">-</tspan><tspan x="2579" dy="11.1">-</tspan><tspan x="2579" dy="11.1">-</tspan><tspan x="2579" dy="11.1">-</tspan><tspan x="2579" dy="11.1">-</tspan><tspan x="2579" dy="11.1">-</tspan><tspan x="2579" dy="11.1">-</tspan><tspan x="2579" dy="11.1">-</tspan><tspan x="2579" dy="11.1">-</tspan><tspan x="2579" dy="11.1">-</tspan><tspan x="2579" dy="11.1">-</tspan><tspan x="2579" dy="11.1">-</tspan><tspan x="2579" dy="11.1">-</tspan><tspan x="2579" dy="11.1">-</tspan><tspan x="2579" dy="11.1">-</tspan><tspan x="2579" dy="11.1">-</tspan><tspan x="2579" dy="11.1">-</tspan><tspan x="2579" dy="11.1">-</tspan><tspan x="2579" dy="11.1">-</tspan><tspan x="2579" dy="11.1">-</tspan><tspan x="2579" dy="11.1">-</tspan></text>
<text class="t" x="2592" y="44.2"><tspan x="2592">arrowButton1: AAS.UI.ArrowButton</tspan><tspan x="2592" dy="11.1">arrowButton10: AAS.UI.ArrowButton</tspan><tspan x="2592" dy="11.1">arrowButton11: AAS.UI.ArrowButton</tspan><tspan x="2592" dy="11.1">arrowButton12: AAS.UI.ArrowButton</tspan><tspan x="2592" dy="11.1">arrowButton13: AAS.UI.ArrowButton</tspan><tspan x="2592" dy="11.1">arrowButton2: AAS.UI.ArrowButton</tspan><tspan x="2592" dy="11.1">arrowButton3: AAS.UI.ArrowButton</tspan><tspan x="2592" dy="11.1">arrowButton4: AAS.UI.ArrowButton</tspan><tspan x="2592" dy="11.1">arrowButton5: AAS.UI.ArrowButton</tspan><tspan x="2592" dy="11.1">arrowButton6: AAS.UI.ArrowButton</tspan><tspan x="2592" dy="11.1">arrowButton7: AAS.UI.ArrowButton</tspan><tspan x="2592" dy="11.1">arrowButton8: AAS.UI.ArrowButton</tspan><tspan x="2592" dy="11.1">arrowButton9: AAS.UI.ArrowButton</tspan><tspan x="2592" dy="11.1">arrowButtonDownToPrecisorStation: AAS.UI.ArrowButton</tspan><tspan x="2592" dy="11.1">arrowButtonUpFromPrecisorStation: AAS.UI.ArrowButton</tspan><tspan x="2592" dy="11.1">btnOpenRecipe: System.Windows.Forms.Button</tspan><tspan x="2592" dy="11.1">buttonAllPrecisorVacuumOff: System.Windows.Forms.Button</tspan><tspan x="2592" dy="11.1">buttonAllPrecisorVacuumOn: System.Windows.Forms.Button</tspan><tspan x="2592" dy="11.1">buttonInputLifterFree: System.Windows.Forms.Button</tspan><tspan x="2592" dy="11.1">buttonInputPickVacuumProcess: System.Windows.Forms.Button</tspan><tspan x="2592" dy="11.1">buttonInputPlacePurgeProcess: System.Windows.Forms.Button</tspan><tspan x="2592" dy="11.1">buttonInputTurnTableFree: System.Windows.Forms.Button</tspan><tspan x="2592" dy="11.1">buttonOutputLifterFree: System.Windows.Forms.Button</tspan><tspan x="2592" dy="11.1">buttonOutputPickVacuumProcess: System.Windows.Forms.Button</tspan><tspan x="2592" dy="11.1">buttonOutputPlacePurgeProcess: System.Windows.Forms.Button</tspan><tspan x="2592" dy="11.1">buttonOutputTurnTableFree: System.Windows.Forms.Button</tspan><tspan x="2592" dy="11.1">components: System.ComponentModel.IContainer = null</tspan><tspan x="2592" dy="11.1">groupBox1: System.Windows.Forms.GroupBox</tspan><tspan x="2592" dy="11.1">groupBox2: System.Windows.Forms.GroupBox</tspan><tspan x="2592" dy="11.1">groupBoxPrecisorVacuum: System.Windows.Forms.GroupBox</tspan><tspan x="2592" dy="11.1">groupBoxTabType: System.Windows.Forms.GroupBox</tspan><tspan x="2592" dy="11.1">groupBoxTailType: System.Windows.Forms.GroupBox</tspan><tspan x="2592" dy="11.1">label1: System.Windows.Forms.Label</tspan><tspan x="2592" dy="11.1">label10: System.Windows.Forms.Label</tspan><tspan x="2592" dy="11.1">label108: System.Windows.Forms.Label</tspan><tspan x="2592" dy="11.1">label11: System.Windows.Forms.Label</tspan><tspan x="2592" dy="11.1">label12: System.Windows.Forms.Label</tspan><tspan x="2592" dy="11.1">label13: System.Windows.Forms.Label</tspan><tspan x="2592" dy="11.1">label14: System.Windows.Forms.Label</tspan><tspan x="2592" dy="11.1">label15: System.Windows.Forms.Label</tspan><tspan x="2592" dy="11.1">label16: System.Windows.Forms.Label</tspan><tspan x="2592" dy="11.1">label17: System.Windows.Forms.Label</tspan><tspan x="2592" dy="11.1">label18: System.Windows.Forms.Label</tspan><tspan x="2592" dy="11.1">label19: System.Windows.Forms.Label</tspan><tspan x="2592" dy="11.1">label2: System.Windows.Forms.Label</tspan><tspan x="2592" dy="11.1">label20: System.Windows.Forms.Label</tspan><tspan x="2592" dy="11.1">label21: System.Windows.Forms.Label</tspan><tspan x="2592" dy="11.1">label22: System.Windows.Forms.Label</tspan><tspan x="2592" dy="11.1">label23: System.Windows.Forms.Label</tspan><tspan x="2592" dy="11.1">label24: System.Windows.Forms.Label</tspan><tspan x="2592" dy="11.1">label25: System.Windows.Forms.Label</tspan><tspan x="2592" dy="11.1">label26: System.Windows.Forms.Label</tspan><tspan x="2592" dy="11.1">label27: System.Windows.Forms.Label</tspan><tspan x="2592" dy="11.1">label28: System.Windows.Forms.Label</tspan><tspan x="2592" dy="11.1">label29: System.Windows.Forms.Label</tspan><tspan x="2592" dy="11.1">label3: System.Windows.Forms.Label</tspan><tspan x="2592" dy="11.1">label30: System.Windows.Forms.Label</tspan><tspan x="2592" dy="11.1">label31: System.Windows.Forms.Label</tspan><tspan x="2592" dy="11.1">label32: System.Windows.Forms.Label</tspan><tspan x="2592" dy="11.1">label33: System.Windows.Forms.Label</tspan><tspan x="2592" dy="11.1">label34: System.Windows.Forms.Label</tspan><tspan x="2592" dy="11.1">label35: System.Windows.Forms.Label</tspan><tspan x="2592" dy="11.1">label36: System.Windows.Forms.Label</tspan><tspan x="2592" dy="11.1">label37: System.Windows.Forms.Label</tspan><tspan x="2592" dy="11.1">label38: System.Windows.Forms.Label</tspan><tspan x="2592" dy="11.1">label39: System.Windows.Forms.Label</tspan><tspan x="2592" dy="11.1">label4: System.Windows.Forms.Label</tspan><tspan x="2592" dy="11.1">label40: System.Windows.Forms.Label</tspan><tspan x="2592" dy="11.1">label41: System.Windows.Forms.Label</tspan><tspan x="2592" dy="11.1">label42: System.Windows.Forms.Label</tspan><tspan x="2592" dy="11.1">label43: System.Windows.Forms.Label</tspan><tspan x="2592" dy="11.1">label44: System.Windows.Forms.Label</tspan><tspan x="2592" dy="11.1">label45: System.Windows.Forms.Label</tspan><tspan x="2592" dy="11.1">label46: System.Windows.Forms.Label</tspan><tspan x="2592" dy="11.1">label47: System.Windows.Forms.Label</tspan><tspan x="2592" dy="11.1">label48: System.Windows.Forms.Label</tspan><tspan x="2592" dy="11.1">label49: System.Windows.Forms.Label</tspan><tspan x="2592" dy="11.1">label5: System.Windows.Forms.Label</tspan><tspan x="2592" dy="11.1">label50: System.Windows.Forms.Label</tspan><tspan x="2592" dy="11.1">label51: System.Windows.Forms.Label</tspan><tspan x="2592" dy="11.1">label52: System.Windows.Forms.Label</tspan><tspan x="2592" dy="11.1">label53: System.Windows.Forms.Label</tspan><tspan x="2592" dy="11.1">label54: System.Windows.Forms.Label</tspan><tspan x="2592" dy="11.1">label55: System.Windows.Forms.Label</tspan><tspan x="2592" dy="11.1">label56: System.Windows.Forms.Label</tspan><tspan x="2592" dy="11.1">label57: System.Windows.Forms.Label</tspan><tspan x="2592" dy="11.1">label58: System.Windows.Forms.Label</tspan><tspan x="2592" dy="11.1">label59: System.Windows.Forms.Label</tspan><tspan x="2592" dy="11.1">label6: System.Windows.Forms.Label</tspan><tspan x="2592" dy="11.1">label60: System.Windows.Forms.Label</tspan><tspan x="2592" dy="11.1">label61: System.Windows.Forms.Label</tspan><tspan x="2592" dy="11.1">label62: System.Windows.Forms.Label</tspan><tspan x="2592" dy="11.1">label63: System.Windows.Forms.Label</tspan><tspan x="2592" dy="11.1">label64: System.Windows.Forms.Label</tspan><tspan x="2592" dy="11.1">label65: System.Windows.Forms.Label</tspan><tspan x="2592" dy="11.1">label66: System.Windows.Forms.Label</tspan><tspan x="2592" dy="11.1">label67: System.Windows.Forms.Label</tspan><tspan x="2592" dy="11.1">label68: System.Windows.Forms.Label</tspan><tspan x="2592" dy="11.1">label69: System.Windows.Forms.Label</tspan><tspan x="2592" dy="11.1">label7: System.Windows.Forms.Label</tspan><tspan x="2592" dy="11.1">label70: System.Windows.Forms.Label</tspan><tspan x="2592" dy="11.1">label71: System.Windows.Forms.Label</tspan><tspan x="2592" dy="11.1">label72: System.Windows.Forms.Label</tspan><tspan x="2592" dy="11.1">label8: System.Windows.Forms.Label</tspan><tspan x="2592" dy="11.1">label83: System.Windows.Forms.Label</tspan><tspan x="2592" dy="11.1">label9: System.Windows.Forms.Label</tspan><tspan x="2592" dy="11.1">label91: System.Windows.Forms.Label</tspan><tspan x="2592" dy="11.1">labelDescription: System.Windows.Forms.Label</tspan><tspan x="2592" dy="11.1">labelDownToTestPositionTravellingTime: System.Windows.Forms.Label</tspan><tspan x="2592" dy="11.1">labelInputDownToLifterPositionTravellingTime: System.Windows.Forms.Label</tspan><tspan x="2592" dy="11.1" textLength="357" lengthAdjust="spacingAndGlyphs">labelInputDownToPrecisorNestPositionTravellingTime: System.Windows.Forms.Label</tspan><tspan x="2592" dy="11.1">labelInputLifterTimeUsed: System.Windows.Forms.Label</tspan><tspan x="2592" dy="11.1">labelInputLifterVacuumProcessTime: System.Windows.Forms.Label</tspan><tspan x="2592" dy="11.1">labelInputPrecisorVacuumProcessTime: System.Windows.Forms.Label</tspan><tspan x="2592" dy="11.1">labelInputStopperTimeUsed: System.Windows.Forms.Label</tspan><tspan x="2592" dy="11.1">labelInputTurnTableTimeUsed: System.Windows.Forms.Label</tspan><tspan x="2592" dy="11.1">labelInputUpFromLifterPositionTravellingTime: System.Windows.Forms.Label</tspan><tspan x="2592" dy="11.1" textLength="357" lengthAdjust="spacingAndGlyphs">labelInputUpFromPrecisorNestPositionTravellingTime: System.Windows.Forms.Label</tspan><tspan x="2592" dy="11.1">labelOutputDownToLifterPositionTravellingTime: System.Windows.Forms.Label</tspan><tspan x="2592" dy="11.1" textLength="357" lengthAdjust="spacingAndGlyphs">labelOutputDownToPrecisorNestPositionTravellingTime: System.Windows.Forms.Label</tspan><tspan x="2592" dy="11.1">labelOutputLifterPurgeProcessTime: System.Windows.Forms.Label</tspan><tspan x="2592" dy="11.1">labelOutputLifterTimeUsed: System.Windows.Forms.Label</tspan><tspan x="2592" dy="11.1">labelOutputPrecisorVacuumProcessTime: System.Windows.Forms.Label</tspan><tspan x="2592" dy="11.1">labelOutputStopperTimeUsed: System.Windows.Forms.Label</tspan><tspan x="2592" dy="11.1">labelOutputTurnTableTimeUsed: System.Windows.Forms.Label</tspan><tspan x="2592" dy="11.1">labelOutputUpFromLifterPositionTravellingTime: System.Windows.Forms.Label</tspan><tspan x="2592" dy="11.1" textLength="357" lengthAdjust="spacingAndGlyphs">labelOutputUpFromPrecisorNestPositionTravellingTime: System.Windows.Forms.Label</tspan><tspan x="2592" dy="11.1" textLength="357" lengthAdjust="spacingAndGlyphs">labelPrecisorNestTravelFromInputStationToTestStation: System.Windows.Forms.Label</tspan><tspan x="2592" dy="11.1" textLength="358" lengthAdjust="spacingAndGlyphs">labelPrecisorNestTravelFromOutputStationToParkPosition: System.Windows.Forms.Label</tspan><tspan x="2592" dy="11.1" textLength="357" lengthAdjust="spacingAndGlyphs">labelPrecisorNestTravelFromParkToInputStationTime: System.Windows.Forms.Label</tspan><tspan x="2592" dy="11.1" textLength="357" lengthAdjust="spacingAndGlyphs">labelPrecisorNestTravelFromTestStationToOutputStation: System.Windows.Forms.Label</tspan><tspan x="2592" dy="11.1">labelRecipeName: System.Windows.Forms.Label</tspan><tspan x="2592" dy="11.1">labelTestTime: System.Windows.Forms.Label</tspan><tspan x="2592" dy="11.1">labelUpFromTestPositionTravellingTime: System.Windows.Forms.Label</tspan><tspan x="2592" dy="11.1">labelVersion: System.Windows.Forms.Label</tspan><tspan x="2592" dy="11.1">labelWaitCarrierReadyForPlaceTime: System.Windows.Forms.Label</tspan><tspan x="2592" dy="11.1">labelWaitPrecisorEnterInputStation: System.Windows.Forms.Label</tspan><tspan x="2592" dy="11.1">labelWaitToEnterInputStationTime: System.Windows.Forms.Label</tspan><tspan x="2592" dy="11.1">ledDisableConveyorPower: AAS.UI.Led</tspan><tspan x="2592" dy="11.1">ledEnableConveyorPower: AAS.UI.Led</tspan><tspan x="2592" dy="11.1">ledInputEEParkPosition: AAS.UI.Led</tspan><tspan x="2592" dy="11.1">ledInputEEPickPosition: AAS.UI.Led</tspan><tspan x="2592" dy="11.1">ledInputEEPlacePosition: AAS.UI.Led</tspan><tspan x="2592" dy="11.1">ledInputEEPurge: AAS.UI.Led</tspan><tspan x="2592" dy="11.1">ledInputEEVacuum: AAS.UI.Led</tspan><tspan x="2592" dy="11.1">ledInputLifterDown: AAS.UI.Led</tspan><tspan x="2592" dy="11.1">ledInputLifterUp: AAS.UI.Led</tspan><tspan x="2592" dy="11.1">ledInputScrewDriverExtend: AAS.UI.Led</tspan><tspan x="2592" dy="11.1">ledInputScrewDriverLock: AAS.UI.Led</tspan><tspan x="2592" dy="11.1">ledInputScrewDriverRetract: AAS.UI.Led</tspan><tspan x="2592" dy="11.1">ledInputScrewDriverUnLock: AAS.UI.Led</tspan><tspan x="2592" dy="11.1">ledInputStopperDown: AAS.UI.Led</tspan><tspan x="2592" dy="11.1">ledInputStopperUp: AAS.UI.Led</tspan><tspan x="2592" dy="11.1">ledInputTurnTableAt0: AAS.UI.Led</tspan><tspan x="2592" dy="11.1">ledInputTurnTableAt90: AAS.UI.Led</tspan><tspan x="2592" dy="11.1">ledOutputEEParkPosition: AAS.UI.Led</tspan><tspan x="2592" dy="11.1">ledOutputEEPickPosition: AAS.UI.Led</tspan><tspan x="2592" dy="11.1">ledOutputEEPlacePosition: AAS.UI.Led</tspan><tspan x="2592" dy="11.1">ledOutputEEPurge: AAS.UI.Led</tspan><tspan x="2592" dy="11.1">ledOutputEEVacuum: AAS.UI.Led</tspan><tspan x="2592" dy="11.1">ledOutputLifterDown: AAS.UI.Led</tspan><tspan x="2592" dy="11.1">ledOutputLifterUp: AAS.UI.Led</tspan><tspan x="2592" dy="11.1">ledOutputScrewDriverExtend: AAS.UI.Led</tspan><tspan x="2592" dy="11.1">ledOutputScrewDriverLock: AAS.UI.Led</tspan><tspan x="2592" dy="11.1">ledOutputScrewDriverRetract: AAS.UI.Led</tspan><tspan x="2592" dy="11.1">ledOutputScrewDriverUnLock: AAS.UI.Led</tspan><tspan x="2592" dy="11.1">ledOutputStopperDown: AAS.UI.Led</tspan><tspan x="2592" dy="11.1">ledOutputStopperUp: AAS.UI.Led</tspan><tspan x="2592" dy="11.1">ledOutputTurnTableAt0: AAS.UI.Led</tspan><tspan x="2592" dy="11.1">ledOutputTurnTableAt90: AAS.UI.Led</tspan><tspan x="2592" dy="11.1">ledPrecisorInputStationPosition: AAS.UI.Led</tspan><tspan x="2592" dy="11.1">ledPrecisorNestAtInputStationPosition: AAS.UI.Led</tspan><tspan x="2592" dy="11.1">ledPrecisorNestAtOutputStationPosition: AAS.UI.Led</tspan><tspan x="2592" dy="11.1">ledPrecisorNestAtParkPosition: AAS.UI.Led</tspan><tspan x="2592" dy="11.1">ledPrecisorNestAtTestStationPosition: AAS.UI.Led</tspan><tspan x="2592" dy="11.1">ledPrecisorOutputStationPosition: AAS.UI.Led</tspan><tspan x="2592" dy="11.1">ledPrecisorTestStationPosition: AAS.UI.Led</tspan><tspan x="2592" dy="11.1">ledPrecisorVacuum1: AAS.UI.Led</tspan><tspan x="2592" dy="11.1">ledPrecisorVacuum2: AAS.UI.Led</tspan><tspan x="2592" dy="11.1">ledPrecisorVacuum3: AAS.UI.Led</tspan><tspan x="2592" dy="11.1">ledPrecisorVacuum4: AAS.UI.Led</tspan><tspan x="2592" dy="11.1">ledPrecisorVacuum5: AAS.UI.Led</tspan><tspan x="2592" dy="11.1">ledPrecisorVacuum6: AAS.UI.Led</tspan><tspan x="2592" dy="11.1">ledPrecisorVacuum7: AAS.UI.Led</tspan><tspan x="2592" dy="11.1">ledSfotStartValve: AAS.UI.Led</tspan><tspan x="2592" dy="11.1">ledTestProbeParkPosition: AAS.UI.Led</tspan><tspan x="2592" dy="11.1">ledTestProbeSafePosition: AAS.UI.Led</tspan><tspan x="2592" dy="11.1">ledTestProbeTestPosition: AAS.UI.Led</tspan><tspan x="2592" dy="11.1">ledTestProbeTestPositionOnPic: AAS.UI.Led</tspan><tspan x="2592" dy="11.1">ledZoneBufferStation: AAS.UI.Led</tspan><tspan x="2592" dy="11.1">ledZoneInputStation: AAS.UI.Led</tspan><tspan x="2592" dy="11.1">ledZoneInputTurnTableStation: AAS.UI.Led</tspan><tspan x="2592" dy="11.1">ledZoneOutputStation: AAS.UI.Led</tspan><tspan x="2592" dy="11.1">ledZoneOutputTurnTableStation: AAS.UI.Led</tspan><tspan x="2592" dy="11.1">panel1: System.Windows.Forms.Panel</tspan><tspan x="2592" dy="11.1">panel2: System.Windows.Forms.Panel</tspan><tspan x="2592" dy="11.1">panelDigitalInputBufferStationInPosition: HGA.HST.UI.PanelDigitalInput</tspan><tspan x="2592" dy="11.1">panelDigitalInputInputStationCarrierLock: HGA.HST.UI.PanelDigitalInput</tspan><tspan x="2592" dy="11.1">panelDigitalInputInputStationCarrierLockDeploy: HGA.HST.UI.PanelDigitalInput</tspan><tspan x="2592" dy="11.1">panelDigitalInputInputStationCarrierUnLock: HGA.HST.UI.PanelDigitalInput</tspan><tspan x="2592" dy="11.1">panelDigitalInputInputStationCarrierUnLockDeploy: HGA.HST.UI.PanelDigitalInput</tspan><tspan x="2592" dy="11.1">panelDigitalInputInputStationInPosition: HGA.HST.UI.PanelDigitalInput</tspan><tspan x="2592" dy="11.1">panelDigitalInputInputTurnTableInPosition: HGA.HST.UI.PanelDigitalInput</tspan><tspan x="2592" dy="11.1">panelDigitalInputInputTurnTableRotateCCW: HGA.HST.UI.PanelDigitalInput</tspan><tspan x="2592" dy="11.1">panelDigitalInputInputTurnTableRotateCW: HGA.HST.UI.PanelDigitalInput</tspan><tspan x="2592" dy="11.1">panelDigitalInputOutputStationCarrierLock: HGA.HST.UI.PanelDigitalInput</tspan><tspan x="2592" dy="11.1">panelDigitalInputOutputStationCarrierLockDeploy: HGA.HST.UI.PanelDigitalInput</tspan><tspan x="2592" dy="11.1">panelDigitalInputOutputStationCarrierUnLock: HGA.HST.UI.PanelDigitalInput</tspan><tspan x="2592" dy="11.1">panelDigitalInputOutputStationCarrierUnLockDeploy: HGA.HST.UI.PanelDigitalInput</tspan><tspan x="2592" dy="11.1">panelDigitalInputOutputStationInPosition: HGA.HST.UI.PanelDigitalInput</tspan><tspan x="2592" dy="11.1">panelDigitalInputOutputTurnTableInPosition: HGA.HST.UI.PanelDigitalInput</tspan><tspan x="2592" dy="11.1">panelDigitalInputOutputTurnTableRotateCCW: HGA.HST.UI.PanelDigitalInput</tspan><tspan x="2592" dy="11.1">panelDigitalInputOutputTurnTableRotateCW: HGA.HST.UI.PanelDigitalInput</tspan><tspan x="2592" dy="11.1">panelDigitalOutput1: HGA.HST.UI.PanelDigitalOutput</tspan><tspan x="2592" dy="11.1">panelInputModule: System.Windows.Forms.Panel</tspan><tspan x="2592" dy="11.1">panelPictureAutomation: System.Windows.Forms.Panel</tspan><tspan x="2592" dy="11.1">panelPictureSeaveyor: System.Windows.Forms.Panel</tspan><tspan x="2592" dy="11.1">pictureBoxAutomationView: System.Windows.Forms.PictureBox</tspan><tspan x="2592" dy="11.1">pictureBoxSeaveyorView: System.Windows.Forms.PictureBox</tspan><tspan x="2592" dy="11.1">radioButtonDownTab: System.Windows.Forms.RadioButton</tspan><tspan x="2592" dy="11.1">radioButtonLongTail: System.Windows.Forms.RadioButton</tspan><tspan x="2592" dy="11.1">radioButtonShortTail: System.Windows.Forms.RadioButton</tspan><tspan x="2592" dy="11.1">radioButtonUpTab: System.Windows.Forms.RadioButton</tspan><tspan x="2592" dy="11.1">rdxPrecisorNestDownTab: System.Windows.Forms.RadioButton</tspan><tspan x="2592" dy="11.1">rdxPrecisorNestUpTab: System.Windows.Forms.RadioButton</tspan><tspan x="2592" dy="11.1">tabControlOperationStatus: System.Windows.Forms.TabControl</tspan><tspan x="2592" dy="11.1">tabPageAutomation: System.Windows.Forms.TabPage</tspan><tspan x="2592" dy="11.1">tabPageSeaveyor: System.Windows.Forms.TabPage</tspan><tspan x="2592" dy="11.1">tabPageTimeMonitoring: System.Windows.Forms.TabPage</tspan><tspan x="2592" dy="11.1">textBoxDescriptionDisplay: System.Windows.Forms.TextBox</tspan><tspan x="2592" dy="11.1">textBoxRecipeNameDisplay: System.Windows.Forms.TextBox</tspan><tspan x="2592" dy="11.1">textBoxVersionDisplay: System.Windows.Forms.TextBox</tspan><tspan x="2592" dy="11.1">timerConveyorPower: System.Windows.Forms.Timer</tspan><tspan x="2592" dy="11.1">timerInputHandlerModule: System.Windows.Forms.Timer</tspan><tspan x="2592" dy="11.1">timerInputTurnTableModule: System.Windows.Forms.Timer</tspan><tspan x="2592" dy="11.1">timerOutputHandlerModule: System.Windows.Forms.Timer</tspan><tspan x="2592" dy="11.1">timerOutputTurnTableModule: System.Windows.Forms.Timer</tspan><tspan x="2592" dy="11.1">timerPrecisorNestModule: System.Windows.Forms.Timer</tspan><tspan x="2592" dy="11.1">timerTestProbeHandlerModule: System.Windows.Forms.Timer</tspan></text>
<line class="sep" x1="2574" y1="2693" x2="2954" y2="2693"/>
<text class="t" x="2579" y="2705.3"><tspan x="2579">#</tspan><tspan x="2579" dy="11.1">-</tspan></text>
<text class="t" x="2592" y="2705.3"><tspan x="2592">Dispose(bool): void</tspan><tspan x="2592" dy="11.1">InitializeComponent(): void</tspan></text>
</g>

<g id="visionPanelUC">
<rect class="sh" x="2995" y="1255" width="303" height="227" rx="3"/>
<rect class="box" x="2992" y="1252" width="303" height="227" rx="3"/>
<text class="t i" x="3293" y="1264.5">UserControl</text>
<text class="t b" x="3143.5" y="1277.5">VisionPanel</text>
<line class="sep" x1="2992" y1="1284" x2="3295" y2="1284"/>
<text class="t" x="2997" y="1296">-</text>
<text class="t" x="3009" y="1296">img: CogImage8Grey</text>
<line class="sep" x1="2992" y1="1301" x2="3295" y2="1301"/>
<text class="t" x="2997" y="1312.7"><tspan x="2997">-</tspan><tspan x="2997" dy="11.15">-</tspan><tspan x="2997" dy="11.15">-</tspan><tspan x="2997" dy="11.15">-</tspan><tspan x="2997" dy="11.15">-</tspan><tspan x="2997" dy="11.15">-</tspan><tspan x="2997" dy="11.15">-</tspan><tspan x="2997" dy="11.15">+</tspan><tspan x="2997" dy="11.15">-</tspan><tspan x="2997" dy="11.15">-</tspan><tspan x="2997" dy="11.15">+</tspan><tspan x="2997" dy="11.15">-</tspan><tspan x="2997" dy="11.15">-</tspan></text>
<text class="t" x="3009" y="1312.7"><tspan x="3009">button1_Click(object, EventArgs): void</tspan><tspan x="3009" dy="11.15">ButtonGrabImage_Click(object, EventArgs): void</tspan><tspan x="3009" dy="11.15">ButtonLoadRecipe_Click(object, EventArgs): void</tspan><tspan x="3009" dy="11.15">ButtonOpenFile_Click(object, EventArgs): void</tspan><tspan x="3009" dy="11.15">ButtonRunTool_Click(object, EventArgs): void</tspan><tspan x="3009" dy="11.15">cogToolBlockEditV21_SubjectChanged(object, EventArgs): void</tspan><tspan x="3009" dy="11.15" textLength="282" lengthAdjust="spacingAndGlyphs">ComboBoxCamera_SelectedIndexChanged(object, EventArgs): void</tspan><tspan x="3009" dy="11.15" textLength="284" lengthAdjust="spacingAndGlyphs">formclose(object, System.Windows.Forms.FormClosedEventArgs): void</tspan><tspan x="3009" dy="11.15">RadioButtonCamera_CheckedChanged(object, EventArgs): void</tspan><tspan x="3009" dy="11.15">RadioButtonFile_CheckedChanged(object, EventArgs): void</tspan><tspan x="3009" dy="11.15">VisionPanel()</tspan><tspan x="3009" dy="11.15">VisionPanel_Load(object, EventArgs): void</tspan><tspan x="3009" dy="11.15">VisionSettingsChanged(object, EventArgs): void</tspan></text>
<text class="t" x="2997" y="1458">«event»</text>
<text class="t" x="2997" y="1472">+</text>
<text class="t" x="3009" y="1472">OnSettingChanged(): EventHandler</text>
</g>

<g id="visionPanel2UC">
<rect class="sh" x="3321" y="1284" width="306" height="168" rx="3"/>
<rect class="box" x="3318" y="1281" width="306" height="168" rx="3"/>
<text class="t i" x="3622" y="1293">UserControl</text>
<text class="t b" x="3471" y="1306">VisionPanel2</text>
<line class="sep" x1="3318" y1="1312" x2="3624" y2="1312"/>
<text class="t" x="3327" y="1325.3">-</text>
<text class="t" x="3337" y="1325.3">img: CogImage8Grey</text>
<line class="sep" x1="3318" y1="1331" x2="3624" y2="1331"/>
<text class="t" x="3327" y="1343.3"><tspan x="3327">-</tspan><tspan x="3327" dy="11.14">-</tspan><tspan x="3327" dy="11.14">-</tspan><tspan x="3327" dy="11.14">-</tspan><tspan x="3327" dy="11.14">-</tspan><tspan x="3327" dy="11.14">+</tspan><tspan x="3327" dy="11.14">-</tspan><tspan x="3327" dy="11.14">-</tspan><tspan x="3327" dy="11.14">-</tspan><tspan x="3327" dy="11.14">+</tspan></text>
<text class="t" x="3337" y="1343.3"><tspan x="3337">ButtonGrabImage_Click(object, EventArgs): void</tspan><tspan x="3337" dy="11.14">ButtonLiveImage_Click(object, EventArgs): void</tspan><tspan x="3337" dy="11.14">ButtonOpenFile_Click(object, EventArgs): void</tspan><tspan x="3337" dy="11.14">cogToolBlockEditV21_SubjectChanged(object, EventArgs): void</tspan><tspan x="3337" dy="11.14" textLength="283" lengthAdjust="spacingAndGlyphs">ComboBoxCamera_SelectedIndexChanged(object, EventArgs): void</tspan><tspan x="3337" dy="11.14" textLength="284" lengthAdjust="spacingAndGlyphs">formclose(object, System.Windows.Forms.FormClosedEventArgs): void</tspan><tspan x="3337" dy="11.14">RadioButtonCamera_CheckedChanged(object, EventArgs): void</tspan><tspan x="3337" dy="11.14">RadioButtonFile_CheckedChanged(object, EventArgs): void</tspan><tspan x="3337" dy="11.14">VisionPanel_Load(object, EventArgs): void</tspan><tspan x="3337" dy="11.14">VisionPanel2()</tspan></text>
</g>

<g id="visionPanel">
<rect class="sh" x="13" y="2761" width="320" height="391" rx="3"/>
<rect class="box" x="10" y="2758" width="320" height="391" rx="3"/>
<text class="t b" x="170" y="2774">VisionPanel</text>
<line class="sep" x1="10" y1="2780" x2="330" y2="2780"/>
<text class="t" x="15" y="2793"><tspan x="15">-</tspan><tspan x="15" dy="11.1">-</tspan><tspan x="15" dy="11.1">-</tspan><tspan x="15" dy="11.1">-</tspan><tspan x="15" dy="11.1">-</tspan><tspan x="15" dy="11.1">-</tspan><tspan x="15" dy="11.1">-</tspan><tspan x="15" dy="11.1">-</tspan><tspan x="15" dy="11.1">-</tspan><tspan x="15" dy="11.1">-</tspan><tspan x="15" dy="11.1">-</tspan><tspan x="15" dy="11.1">-</tspan><tspan x="15" dy="11.1">-</tspan><tspan x="15" dy="11.1">-</tspan><tspan x="15" dy="11.1">-</tspan><tspan x="15" dy="11.1">-</tspan><tspan x="15" dy="11.1">-</tspan><tspan x="15" dy="11.1">-</tspan><tspan x="15" dy="11.1">-</tspan><tspan x="15" dy="11.1">-</tspan><tspan x="15" dy="11.1">-</tspan><tspan x="15" dy="11.1">-</tspan><tspan x="15" dy="11.1">-</tspan><tspan x="15" dy="11.1">-</tspan><tspan x="15" dy="11.1">-</tspan><tspan x="15" dy="11.1">-</tspan><tspan x="15" dy="11.1">-</tspan><tspan x="15" dy="11.1">-</tspan><tspan x="15" dy="11.1">-</tspan></text>
<text class="t" x="27" y="2793"><tspan x="27">button1: System.Windows.Forms.Button</tspan><tspan x="27" dy="11.1">ButtonGrabImage: System.Windows.Forms.Button</tspan><tspan x="27" dy="11.1">ButtonLoadRecipe: System.Windows.Forms.Button</tspan><tspan x="27" dy="11.1">ButtonOpenFile: System.Windows.Forms.Button</tspan><tspan x="27" dy="11.1">ButtonRunTool: System.Windows.Forms.Button</tspan><tspan x="27" dy="11.1">cogDisplay1: Cognex.VisionPro.Display.CogDisplay</tspan><tspan x="27" dy="11.1" textLength="300" lengthAdjust="spacingAndGlyphs">cogDisplayPanel: Seagate.AAS.HGA.HST.UI.Operation.CogDisplayPanel</tspan><tspan x="27" dy="11.1">cogtoolblock: Cognex.VisionPro.ToolBlock.CogToolBlock</tspan><tspan x="27" dy="11.1" textLength="299" lengthAdjust="spacingAndGlyphs">cogToolBlockEditV21: Cognex.VisionPro.ToolBlock.CogToolBlockEditV2</tspan><tspan x="27" dy="11.1">ComboBoxCamera: System.Windows.Forms.ComboBox</tspan><tspan x="27" dy="11.1">components: System.ComponentModel.IContainer = null</tspan><tspan x="27" dy="11.1">FiducialCamera: Seagate.AAS.HGA.HST.Vision.Camera</tspan><tspan x="27" dy="11.1">FiducialCameraVisionApp: Seagate.AAS.HGA.HST.Vision.VisionApp</tspan><tspan x="27" dy="11.1">FileCameraVisionApp: Seagate.AAS.HGA.HST.Vision.VisionApp</tspan><tspan x="27" dy="11.1">FormCogDisplay: System.Windows.Forms.Form</tspan><tspan x="27" dy="11.1">GroupBoxCamera: System.Windows.Forms.GroupBox</tspan><tspan x="27" dy="11.1">GroupBoxImageSource: System.Windows.Forms.GroupBox</tspan><tspan x="27" dy="11.1">HSTVision: Seagate.AAS.HGA.HST.Vision.VisionHardware</tspan><tspan x="27" dy="11.1">InputCamera: Seagate.AAS.HGA.HST.Vision.Camera</tspan><tspan x="27" dy="11.1">InputCameraVisionApp: Seagate.AAS.HGA.HST.Vision.VisionApp</tspan><tspan x="27" dy="11.1">LabelImageSharpness: System.Windows.Forms.Label</tspan><tspan x="27" dy="11.1">MAX_CAMERA: int = 3</tspan><tspan x="27" dy="11.1">OutputCamera: Seagate.AAS.HGA.HST.Vision.Camera</tspan><tspan x="27" dy="11.1">OutputCameraVisionApp: Seagate.AAS.HGA.HST.Vision.VisionApp</tspan><tspan x="27" dy="11.1">RadioButtonCamera: System.Windows.Forms.RadioButton</tspan><tspan x="27" dy="11.1">RadioButtonFile: System.Windows.Forms.RadioButton</tspan><tspan x="27" dy="11.1">tabControl1: System.Windows.Forms.TabControl</tspan><tspan x="27" dy="11.1">tabPage1: System.Windows.Forms.TabPage</tspan><tspan x="27" dy="11.1">tabPage2: System.Windows.Forms.TabPage</tspan></text>
<line class="sep" x1="10" y1="3109" x2="330" y2="3109"/>
<text class="t" x="15" y="3122"><tspan x="15">#</tspan><tspan x="15" dy="11.1">-</tspan><tspan x="15" dy="11.1">+</tspan></text>
<text class="t" x="27" y="3122"><tspan x="27">Dispose(bool): void</tspan><tspan x="27" dy="11.1">InitializeComponent(): void</tspan><tspan x="27" dy="11.1">InitializeVisionTools(): void</tspan></text>
</g>

<g id="visionPanel2">
<rect class="sh" x="376" y="2795" width="322" height="324" rx="3"/>
<rect class="box" x="373" y="2792" width="322" height="324" rx="3"/>
<text class="t b" x="534" y="2807">VisionPanel2</text>
<line class="sep" x1="373" y1="2814" x2="695" y2="2814"/>
<text class="t" x="380" y="2826"><tspan x="380">-</tspan><tspan x="380" dy="11.1">-</tspan><tspan x="380" dy="11.1">-</tspan><tspan x="380" dy="11.1">-</tspan><tspan x="380" dy="11.1">-</tspan><tspan x="380" dy="11.1">-</tspan><tspan x="380" dy="11.1">-</tspan><tspan x="380" dy="11.1">-</tspan><tspan x="380" dy="11.1">-</tspan><tspan x="380" dy="11.1">-</tspan><tspan x="380" dy="11.1">-</tspan><tspan x="380" dy="11.1">-</tspan><tspan x="380" dy="11.1">-</tspan><tspan x="380" dy="11.1">-</tspan><tspan x="380" dy="11.1">-</tspan><tspan x="380" dy="11.1">-</tspan><tspan x="380" dy="11.1">-</tspan><tspan x="380" dy="11.1">-</tspan><tspan x="380" dy="11.1">-</tspan><tspan x="380" dy="11.1">-</tspan><tspan x="380" dy="11.1">-</tspan><tspan x="380" dy="11.1">-</tspan><tspan x="380" dy="11.1">-</tspan></text>
<text class="t" x="392" y="2826"><tspan x="392">ButtonGrabImage: System.Windows.Forms.Button</tspan><tspan x="392" dy="11.1">ButtonLiveImage: System.Windows.Forms.Button</tspan><tspan x="392" dy="11.1">ButtonOpenFile: System.Windows.Forms.Button</tspan><tspan x="392" dy="11.1" textLength="300" lengthAdjust="spacingAndGlyphs">cogDisplayPanel: Seagate.AAS.HGA.HST.UI.Operation.CogDisplayPanel</tspan><tspan x="392" dy="11.1">cogtoolblock: Cognex.VisionPro.ToolBlock.CogToolBlock</tspan><tspan x="392" dy="11.1" textLength="299" lengthAdjust="spacingAndGlyphs">cogToolBlockEditV21: Cognex.VisionPro.ToolBlock.CogToolBlockEditV2</tspan><tspan x="392" dy="11.1">ComboBoxCamera: System.Windows.Forms.ComboBox</tspan><tspan x="392" dy="11.1">components: System.ComponentModel.IContainer = null</tspan><tspan x="392" dy="11.1">FiducialCamera: Seagate.AAS.HGA.HST.Vision.Camera</tspan><tspan x="392" dy="11.1">FiducialCameraVisionApp: Seagate.AAS.HGA.HST.Vision.VisionApp</tspan><tspan x="392" dy="11.1">FileCameraVisionApp: Seagate.AAS.HGA.HST.Vision.VisionApp</tspan><tspan x="392" dy="11.1">FormCogDisplay: System.Windows.Forms.Form</tspan><tspan x="392" dy="11.1">GroupBoxCamera: System.Windows.Forms.GroupBox</tspan><tspan x="392" dy="11.1">GroupBoxImageSource: System.Windows.Forms.GroupBox</tspan><tspan x="392" dy="11.1">HSTVision: Seagate.AAS.HGA.HST.Vision.VisionHardware</tspan><tspan x="392" dy="11.1">InputCamera: Seagate.AAS.HGA.HST.Vision.Camera</tspan><tspan x="392" dy="11.1">InputCameraVisionApp: Seagate.AAS.HGA.HST.Vision.VisionApp</tspan><tspan x="392" dy="11.1">OutputCamera: Seagate.AAS.HGA.HST.Vision.Camera</tspan><tspan x="392" dy="11.1">OutputCameraVisionApp: Seagate.AAS.HGA.HST.Vision.VisionApp</tspan><tspan x="392" dy="11.1">RadioButtonCamera: System.Windows.Forms.RadioButton</tspan><tspan x="392" dy="11.1">RadioButtonFile: System.Windows.Forms.RadioButton</tspan><tspan x="392" dy="11.1">tabControl1: System.Windows.Forms.TabControl</tspan><tspan x="392" dy="11.1">TabPageVisionTrainingTool: System.Windows.Forms.TabPage</tspan></text>
<line class="sep" x1="373" y1="3076" x2="695" y2="3076"/>
<text class="t" x="380" y="3088"><tspan x="380">#</tspan><tspan x="380" dy="11.1">-</tspan><tspan x="380" dy="11.1">+</tspan></text>
<text class="t" x="392" y="3088"><tspan x="392">Dispose(bool): void</tspan><tspan x="392" dy="11.1">InitializeComponent(): void</tspan><tspan x="392" dy="11.1">InitializeVisionTools(): void</tspan></text>
</g>
</svg>
